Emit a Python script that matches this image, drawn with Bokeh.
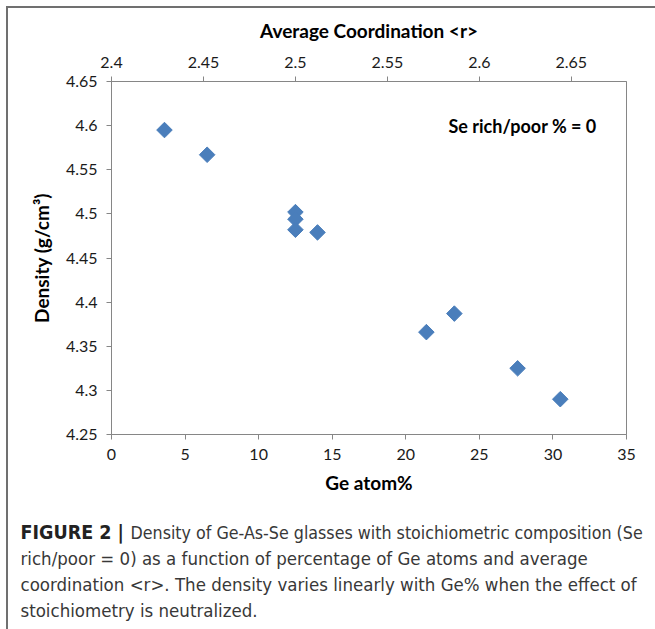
from bokeh.plotting import figure
from bokeh.layouts import column
from bokeh.models import (Range1d, LinearAxis, FixedTicker, CustomJSTickFormatter, Label)
from bokeh.core.properties import value
from bokeh.embed import file_html
from bokeh.resources import INLINE

# Stoichiometric Ge-As-Se glasses: Ge content (atom %) and measured density
ge_percent = [3.6, 6.5, 12.5, 12.5, 12.5, 14.0, 21.4, 23.3, 27.6, 30.5]
density = [4.595, 4.567, 4.502, 4.494, 4.482, 4.479, 4.366, 4.387, 4.325, 4.290]

ge_ticks = [0, 5, 10, 15, 20, 25, 30, 35]
density_ticks = [4.25, 4.3, 4.35, 4.4, 4.45, 4.5, 4.55, 4.6, 4.65]
coord_ticks = [2.4, 2.45, 2.5, 2.55, 2.6, 2.65]

# <r> = 2.4 + 0.008 * Ge%  for stoichiometric compositions
coord_range = (2.4 + 0.008 * ge_ticks[0], 2.4 + 0.008 * ge_ticks[-1])

caption_bold = "FIGURE 2 |"
caption_lines = [
    "Density of Ge-As-Se glasses with stoichiometric composition (Se",
    "rich/poor = 0) as a function of percentage of Ge atoms and average",
    "coordination <r>. The density varies linearly with Ge% when the effect of",
    "stoichiometry is neutralized.",
]
note_text = "Se rich/poor % = 0"

CHART_FONT = "Lato"
CAPTION_FONT = "'Liberation Sans Narrow', 'DejaVu Sans Condensed', Roboto"
AXIS_GREY = "#868686"
PANEL_GREY = "#707070"
TEXT_DARK = "#1a1a1a"
MARKER_BLUE = "#4a7ebb"

INNER_W = 647          # width inside the panel border
CHART_H = 497
CAPTION_H = 124

p = figure(width=INNER_W, height=CHART_H, output_backend="svg", toolbar_location=None,
           x_range=Range1d(ge_ticks[0], ge_ticks[-1]),
           y_range=Range1d(density_ticks[0], density_ticks[-1]),
           min_border_left=103, min_border_right=29,
           min_border_top=73, min_border_bottom=71,
           x_axis_label="Ge atom%", y_axis_label="Density (g/cm\u00b3)")
p.background_fill_color = "white"
p.border_fill_color = "white"
p.outline_line_color = AXIS_GREY
p.outline_line_width = 1
p.xgrid.visible = False
p.ygrid.visible = False
p.frame_align = False

p.extra_x_ranges = {"coord": Range1d(*coord_range)}
top_axis = LinearAxis(x_range_name="coord", axis_label="Average Coordination <r>")
p.add_layout(top_axis, "above")

bottom_axis = p.below[0]
left_axis = p.left[0]

trim = CustomJSTickFormatter(code="return parseFloat(tick.toFixed(4)).toString();")
bottom_axis.ticker = FixedTicker(ticks=ge_ticks)
left_axis.ticker = FixedTicker(ticks=density_ticks)
top_axis.ticker = FixedTicker(ticks=coord_ticks)

for ax in [bottom_axis, left_axis, top_axis]:
    ax.formatter = trim
    ax.axis_line_color = AXIS_GREY
    ax.axis_line_width = 1
    ax.major_tick_line_color = AXIS_GREY
    ax.major_tick_out = 5
    ax.major_tick_in = 0
    ax.minor_tick_line_color = None
    ax.major_label_text_font = CHART_FONT
    ax.major_label_text_font_size = "16px"
    ax.major_label_text_color = TEXT_DARK
    ax.axis_label_text_font = CHART_FONT
    ax.axis_label_text_font_size = "19px"
    ax.axis_label_text_font_style = "bold"
    ax.axis_label_text_color = "black"

bottom_axis.major_label_standoff = 9
bottom_axis.axis_label_standoff = 8
top_axis.major_label_standoff = 9
top_axis.axis_label_standoff = 12
left_axis.major_label_standoff = 9
left_axis.axis_label_standoff = 10

# Diamond markers (rotated squares)
p.scatter(ge_percent, density, marker="square", angle=0.785398, size=11,
          fill_color=MARKER_BLUE, line_color=MARKER_BLUE)

p.add_layout(Label(x=22.9, y=4.60, text=note_text, text_font=CHART_FONT,
                   text_font_size="18px", text_font_style="bold",
                   text_baseline="middle", text_color="black"))

# Caption panel: y grows downward, one unit per pixel
cap = figure(width=INNER_W, height=CAPTION_H, output_backend="svg",
             toolbar_location=None, x_range=Range1d(0, INNER_W),
             y_range=Range1d(CAPTION_H, 0), min_border=0,
             x_axis_location=None, y_axis_location=None)
cap.grid.visible = False
cap.outline_line_color = None
cap.background_fill_color = "white"
cap.border_fill_color = "white"
cap.frame_align = False

line_y = [27, 53, 79, 105]
cap.text(x=[12], y=[line_y[0]], text=[caption_bold], text_font=value(CAPTION_FONT),
         text_font_size="19.5px", text_font_style="bold", text_baseline="middle",
         text_color="#222222")
# first caption line runs after the bold figure tag
cap.text(x=[122], y=[line_y[0]], text=[caption_lines[0]],
         text_font=value(CAPTION_FONT), text_font_size="17.7px",
         text_baseline="middle", text_color="#383838")
cap.text(x=[12, 12, 12], y=line_y[1:], text=caption_lines[1:],
         text_font=value(CAPTION_FONT), text_font_size="18.5px",
         text_baseline="middle", text_color="#383838")

layout = column(p, cap, spacing=0, margin=(6, 0, 0, 6),
                styles={"border-left": "2px solid " + PANEL_GREY,
                        "border-top": "2px solid " + PANEL_GREY})

open("out.html", "w").write(file_html(layout, INLINE))
